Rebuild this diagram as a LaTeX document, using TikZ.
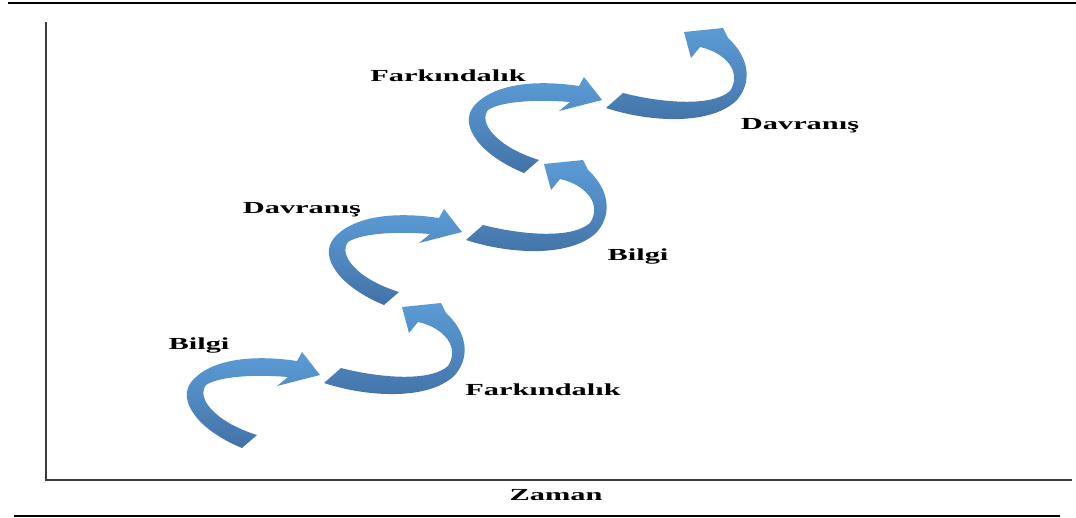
\documentclass[tikz,border=0pt]{standalone}
\usepackage{fontspec}
\setmainfont{Liberation Serif}
\usetikzlibrary{positioning}
\definecolor{arlight}{RGB}{91,155,213}
\definecolor{ardark}{RGB}{66,114,166}
\definecolor{axisgrey}{RGB}{60,60,60}
\newcommand{\widen}[1]{\scalebox{1.8}[1]{#1}}
\begin{document}
\begin{tikzpicture}[x=0.025cm,y=-0.025cm,
  lbl/.style={font=\bfseries\fontsize{12}{14}\selectfont,anchor=base,inner sep=0pt},
  rib/.style={top color=arlight,bottom color=ardark,middle color=arlight!55!ardark},
  ax/.style={axisgrey,line width=0.8pt},
  rule/.style={black,line width=2pt}]
\useasboundingbox (0,0) rectangle (1076,518);
\draw[rule] (8,3) -- (1076,3);
\draw[rule] (14,516) -- (1060,516);
\draw[ax] (46,22) -- (46,480) -- (1072,480);
% three steps, each one two curled arrows
\foreach \dx/\dy in {0/0,142/-143,282/-275}{
  \begin{scope}[shift={(\dx,\dy)}]
    \shade[rib] (242,448) .. controls (198,430) and (176,400) .. (192,381)
      .. controls (210,360) and (250,354) .. (297,361)
      -- (302,352) -- (320,375) -- (277,386) -- (288,377)
      .. controls (250,374) and (218,377) .. (206,385)
      .. controls (196,398) and (215,422) .. (257,435) -- cycle;
    \shade[rib] (324,383) .. controls (370,398) and (430,400) .. (455,375)
      .. controls (472,355) and (465,330) .. (446,313)
      -- (441,303) -- (402,307) -- (409,333) -- (418,322)
      .. controls (445,328) and (460,348) .. (448,366)
      .. controls (430,382) and (380,378) .. (341,368) -- cycle;
  \end{scope}
}
\node[lbl] (b1) at (199,349) {\widen{Bilgi}};
\node[lbl] (f1) at (543,395) {\widen{Farkındalık}};
\node[lbl] (d2) at (302,213) {\widen{Davranış}};
\node[lbl] (b2) at (638,260) {\widen{Bilgi}};
\node[lbl] (f3) at (448,82) {\widen{Farkındalık}};
\node[lbl] (d3) at (800,130) {\widen{Davranış}};
\node[lbl] (zaman) at (556,500) {\widen{Zaman}};
\end{tikzpicture}
\end{document}
